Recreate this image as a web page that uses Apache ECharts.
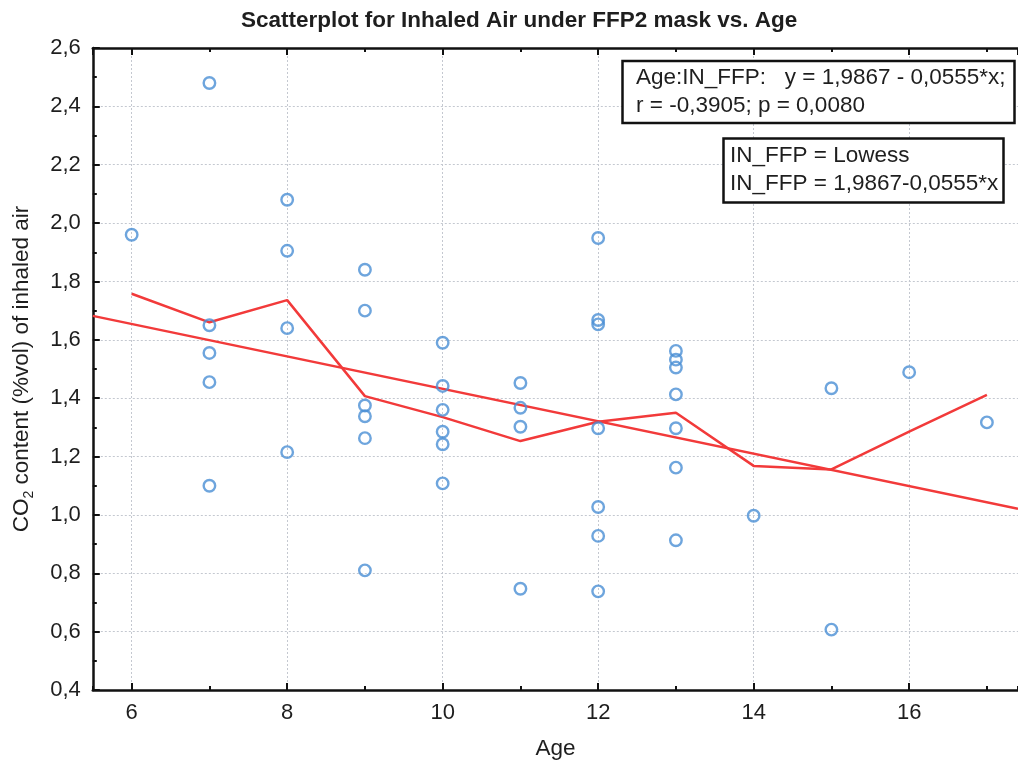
<!DOCTYPE html>
<html>
<head>
<meta charset="utf-8">
<script src="https://cdn.jsdelivr.net/npm/echarts@6/dist/echarts.min.js"></script>
<style>html,body{margin:0;padding:0;background:#fff;}#c{width:1018px;height:765px;}</style>
</head>
<body>
<div id="c"></div>
<script>
// Scatter data: age (x) and CO2 content of inhaled air (y)
const ages = [6, 7,7,7,7,7, 8,8,8,8, 9,9,9,9,9,9, 10,10,10,10,10,10, 11,11,11,11, 12,12,12,12,12,12,12, 13,13,13,13,13,13,13, 14, 15,15, 16, 17];
const co2  = [1.96, 2.48,1.65,1.555,1.455,1.10, 2.08,1.905,1.64,1.215, 1.84,1.70,1.375,1.338,1.263,0.81, 1.59,1.442,1.36,1.285,1.242,1.108, 1.452,1.367,1.302,0.747, 1.949,1.668,1.653,1.297,1.027,0.928,0.738, 1.562,1.532,1.505,1.413,1.297,1.162,0.913, 0.997, 1.434,0.607, 1.489, 1.317];
// Lowess curve vertices
const lowessX = [6, 7, 8, 9, 10, 11, 12, 13, 14, 15, 16, 17];
const lowessY = [1.758, 1.66, 1.736, 1.407, 1.335, 1.253, 1.319, 1.35, 1.168, 1.156, 1.285, 1.411];
// Linear fit line end points (IN_FFP = 1,9867-0,0555*x)
const fitX = [5.5, 17.4];
const fitY = [1.682, 1.021];
// Axis ranges and tick labels
const xRange = [5.5, 17.4];
const yRange = [0.4, 2.6];
const yStep = 0.2;
const titleText = 'Scatterplot for Inhaled Air under FFP2 mask vs. Age';
const box1Lines = ['Age:IN_FFP:   y = 1,9867 - 0,0555*x;', 'r = -0,3905; p = 0,0080'];
const box2Lines = ['IN_FFP = Lowess', 'IN_FFP = 1,9867-0,0555*x'];

const FONT = '"Liberation Sans", Arial, sans-serif';
const chart = echarts.init(document.getElementById('c'), null, {renderer: 'canvas'});

const fmtComma = v => v.toFixed(1).replace('.', ',');

const option = {
  backgroundColor: '#ffffff',
  animation: false,
  title: {
    text: titleText,
    left: 236, top: 4,
    textStyle: {fontFamily: FONT, fontWeight: 'bold', fontSize: 22.5, color: '#1e1e1e'}
  },
  grid: {left: 92.8, top: 48, right: 0, bottom: 75, containLabel: false},
  xAxis: [
    {
      type: 'value', min: xRange[0], max: xRange[1], splitNumber: 6,
      position: 'bottom',
      name: 'Age', nameLocation: 'middle', nameGap: 47,
      nameTextStyle: {fontFamily: FONT, fontSize: 22.5, color: '#1e1e1e'},
      axisLine: {show: true, onZero: false, lineStyle: {color: '#111', width: 2.5}},
      axisTick: {show: true, inside: true, length: 7, lineStyle: {color: '#111', width: 2}},
      axisLabel: {show: true, margin: 12, fontFamily: FONT, fontSize: 22, color: '#1e1e1e',
        showMinLabel: false, showMaxLabel: false,
        formatter: v => (Math.abs(v - Math.round(v)) < 1e-9 ? String(v) : '')},
      splitLine: {show: true, lineStyle: {color: '#c4c8d0', width: 1, type: [2, 2]}}
    },
    {
      type: 'value', min: xRange[0], max: xRange[1], splitNumber: 12,
      position: 'bottom', gridIndex: 0,
      axisLine: {show: false, onZero: false},
      axisTick: {show: true, inside: true, length: 4, lineStyle: {color: '#111', width: 2}},
      axisLabel: {show: false}, splitLine: {show: false}
    },
    {
      type: 'value', min: xRange[0], max: xRange[1], splitNumber: 6,
      position: 'top', gridIndex: 0,
      axisLine: {show: true, onZero: false, lineStyle: {color: '#111', width: 2.5}},
      axisTick: {show: true, inside: true, length: 7, lineStyle: {color: '#111', width: 2}},
      axisLabel: {show: false}, splitLine: {show: false}
    },
    {
      type: 'value', min: xRange[0], max: xRange[1], splitNumber: 12,
      position: 'top', gridIndex: 0,
      axisLine: {show: false, onZero: false},
      axisTick: {show: true, inside: true, length: 4, lineStyle: {color: '#111', width: 2}},
      axisLabel: {show: false}, splitLine: {show: false}
    }
  ],
  yAxis: {
    type: 'value', min: yRange[0], max: yRange[1], interval: yStep,
    name: '{a|CO}{s|2}{a| content (%vol) of inhaled air}',
    nameLocation: 'middle', nameGap: 57,
    nameTextStyle: {
      fontFamily: FONT, color: '#1e1e1e',
      rich: {
        a: {fontFamily: FONT, fontSize: 22.5, color: '#1e1e1e', lineHeight: 28},
        s: {fontFamily: FONT, fontSize: 14, color: '#1e1e1e', lineHeight: 13, verticalAlign: 'bottom'}
      }
    },
    axisLine: {show: true, onZero: false, lineStyle: {color: '#111', width: 2.5}},
    axisTick: {show: true, inside: true, length: 7, lineStyle: {color: '#111', width: 2}},
    minorTick: {show: true, splitNumber: 2, length: 4, lineStyle: {color: '#111', width: 2}},
    axisLabel: {margin: 12, fontFamily: FONT, fontSize: 22, color: '#1e1e1e', formatter: fmtComma},
    splitLine: {show: true, lineStyle: {color: '#c4c8d0', width: 1, type: [2, 2]}}
  },
  series: [
    {
      type: 'line', name: 'Fit', xAxisIndex: 0,
      data: fitX.map((x, i) => [x, fitY[i]]),
      symbol: 'none', lineStyle: {color: '#f23a3a', width: 2.5}, z: 3
    },
    {
      type: 'line', name: 'Lowess', xAxisIndex: 0,
      data: lowessX.map((x, i) => [x, lowessY[i]]),
      symbol: 'none', lineStyle: {color: '#f23a3a', width: 2.5}, z: 3
    },
    {
      type: 'scatter', name: 'IN_FFP', xAxisIndex: 0,
      data: ages.map((x, i) => [x, co2[i]]),
      symbol: 'circle', symbolSize: 11.5,
      itemStyle: {color: 'rgba(255,255,255,0)', borderColor: '#4a8fd4', borderWidth: 2.4},
      z: 4
    }
  ],
  graphic: [
    {type: 'rect', shape: {x: 622.5, y: 61, width: 392, height: 62}, style: {fill: '#fff', stroke: '#111', lineWidth: 2.5}, z: 10},
    {type: 'text', x: 636, y: 64, style: {text: box1Lines.join('\n'), font: '22.5px ' + FONT, fill: '#1e1e1e', lineHeight: 28}, z: 11},
    {type: 'rect', shape: {x: 723.5, y: 138.5, width: 280, height: 64}, style: {fill: '#fff', stroke: '#111', lineWidth: 2.5}, z: 10},
    {type: 'text', x: 730, y: 142, style: {text: box2Lines.join('\n'), font: '22.5px ' + FONT, fill: '#1e1e1e', lineHeight: 28}, z: 11}
  ]
};
chart.setOption(option);
</script>
</body>
</html>
